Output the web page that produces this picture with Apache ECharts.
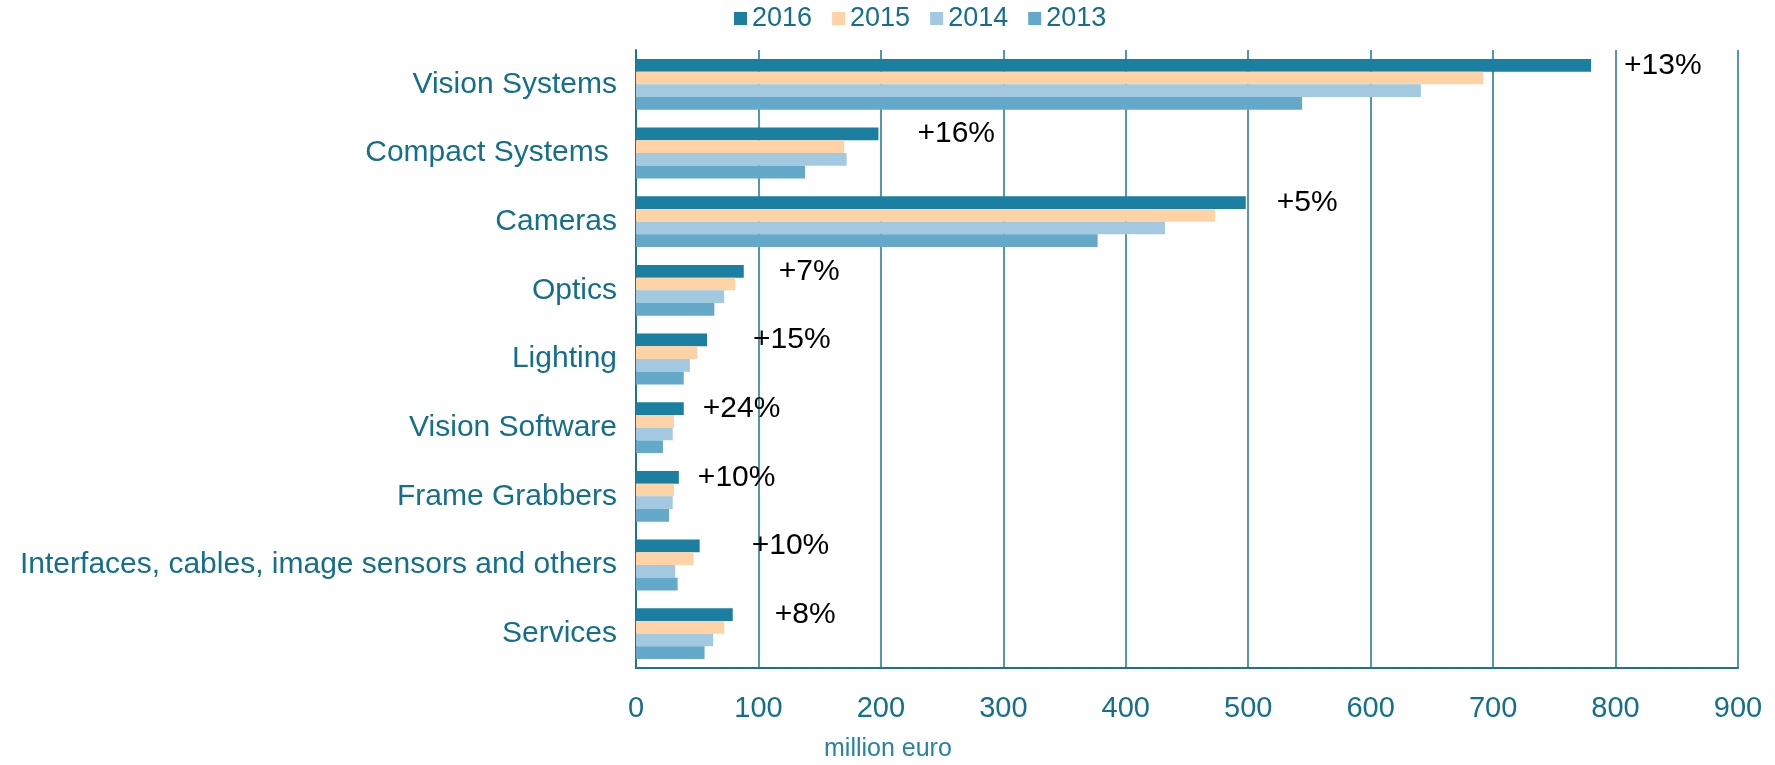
<!DOCTYPE html>
<html>
<head>
<meta charset="utf-8">
<script src="https://cdn.jsdelivr.net/npm/echarts@6/dist/echarts.min.js"></script>
<style>
  html, body { margin: 0; padding: 0; background: #fff; }
  #chart { width: 1775px; height: 765px; }
</style>
</head>
<body>
<div id="chart"></div>
<script>
const categories = [
  "Vision Systems",
  "Compact Systems ",
  "Cameras",
  "Optics",
  "Lighting",
  "Vision Software",
  "Frame Grabbers",
  "Interfaces, cables, image sensors and others",
  "Services"
];
const years = ["2016", "2015", "2014", "2013"];
const values2016 = [780, 198, 498, 88, 58, 39, 35, 52, 79];
const values2015 = [692, 170, 473, 81, 50, 31, 31, 47, 72];
const values2014 = [641, 172, 432, 72, 44, 30, 30, 32, 63];
const values2013 = [544, 138, 377, 64, 39, 22, 27, 34, 56];
const growth = ["+13%", "+16%", "+5%", "+7%", "+15%", "+24%", "+10%", "+10%", "+8%"];

// label distance from the end of the 2016 bar (layout only)
const labelGap = [33, 39, 31, 35, 46, 19, 19, 52, 42];

const font = "'Liberation Sans', Arial, sans-serif";
const teal = "#136f8c";
const gridColor = "#1c7491";
const colors = ["#1b7fa1", "#ffd3a5", "#a3c9e0", "#65a9ca"];

let myChart = echarts.init(document.getElementById("chart"));

const seriesData = [values2016, values2015, values2014, values2013];

myChart.setOption({
  animation: false,
  textStyle: { fontFamily: font },
  title: {
    text: "million euro",
    left: 824,
    top: 737,
    padding: 0,
    textStyle: { fontSize: 25, fontWeight: "normal", color: "#2583a3", fontFamily: font }
  },
  legend: {
    data: years,
    left: 734,
    top: 5,
    padding: 0,
    icon: "rect",
    itemWidth: 13,
    itemHeight: 13,
    itemGap: 20,
    textStyle: { fontSize: 27, color: teal, fontFamily: font }
  },
  grid: {
    left: 636,
    right: 37,
    top: 50,
    bottom: 97
  },
  xAxis: {
    type: "value",
    min: 0,
    max: 900,
    interval: 100,
    axisLine: { show: true, lineStyle: { color: gridColor, width: 2 } },
    axisTick: { show: false },
    splitLine: { show: true, lineStyle: { color: gridColor, width: 1.5 } },
    axisLabel: { fontSize: 29, color: teal, margin: 26, fontFamily: font }
  },
  yAxis: {
    type: "category",
    inverse: true,
    data: categories,
    axisLine: { show: true, lineStyle: { color: gridColor, width: 2 } },
    axisTick: { show: false },
    axisLabel: { fontSize: 30, color: teal, margin: 19, fontFamily: font }
  },
  series: years.map((y, s) => ({
    name: y,
    type: "bar",
    barGap: "0%",
    barCategoryGap: "26%",
    itemStyle: { color: colors[s] },
    data: s === 0
      ? seriesData[s].map((v, i) => ({ value: v, label: { distance: labelGap[i] } }))
      : seriesData[s],
    label: s === 0 ? {
      show: true,
      position: "right",
      color: "#000",
      fontSize: 30,
      fontFamily: font,
      formatter: (p) => growth[p.dataIndex]
    } : { show: false }
  }))
});
</script>
</body>
</html>
